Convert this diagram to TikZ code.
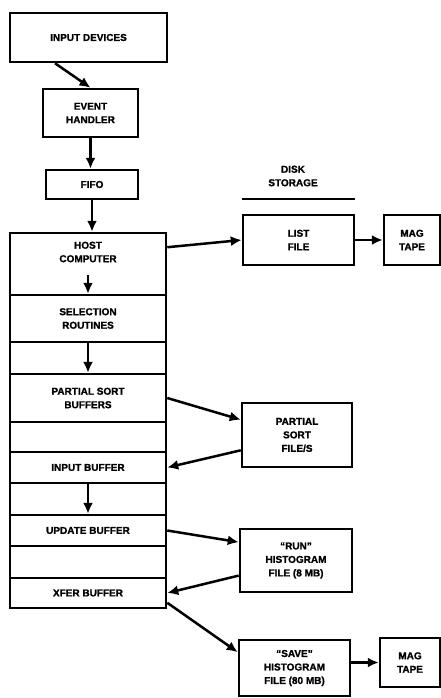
\documentclass[tikz,border=0pt]{standalone}
\usepackage{fontspec}
\setmainfont{Liberation Sans}[BoldFeatures={FakeBold=1.2}]
\usetikzlibrary{arrows.meta,calc}
\begin{document}
\begin{tikzpicture}[x=1pt,y=-1pt,
  box/.style={draw, line width=2.5pt, rectangle, inner sep=0pt, align=center,
    font=\fontsize{10}{13.5}\selectfont\bfseries},
  lbl/.style={inner sep=2pt, align=center, font=\fontsize{10}{13.5}\selectfont\bfseries},
  arr/.style={line width=2.5pt, -{Latex[length=11pt,width=10pt]}},
  row/.style={box, minimum width=156pt}]
\useasboundingbox (0,0) rectangle (441,698);
% left column
\node[box, minimum width=157pt, minimum height=49pt] (indev) at (88.5,37.5) {INPUT DEVICES};
\node[box, minimum width=95pt, minimum height=48pt] (evh) at (90.5,113) {EVENT\\HANDLER};
\node[box, minimum width=92pt, minimum height=29pt] (fifo) at (92,184.5) {FIFO};
% stack
\node[row, minimum height=62pt] (host) at (88,264) {};
\node[lbl] (hosttxt) at (88,252) {HOST\\COMPUTER};
\node[row, minimum height=47pt] (sel) at (88,318.5) {SELECTION\\ROUTINES};
\node[row, minimum height=32pt] (e1) at (88,358) {};
\node[row, minimum height=48pt] (psb) at (88,398) {PARTIAL SORT\\BUFFERS};
\node[row, minimum height=30pt] (e2) at (88,437) {};
\node[row, minimum height=31pt] (inb) at (88,467.5) {INPUT BUFFER};
\node[row, minimum height=32pt] (e3) at (88,499) {};
\node[row, minimum height=31pt] (upd) at (88,530.5) {UPDATE BUFFER};
\node[row, minimum height=32pt] (e4) at (88,562) {};
\node[row, minimum height=30pt] (xfer) at (88,593) {XFER BUFFER};
% right side
\node[lbl] (disk) at (293,176) {DISK\\STORAGE};
\node[box, minimum width=111pt, minimum height=50pt] (listf) at (298.5,240) {LIST\\FILE};
\node[box, minimum width=56pt, minimum height=50pt] (mag1) at (412,240) {MAG\\TAPE};
\node[box, minimum width=110pt, minimum height=64pt] (psf) at (297,435) {PARTIAL\\SORT\\FILE/S};
\node[box, minimum width=112pt, minimum height=63pt] (run) at (296,560.5) {“RUN”\\HISTOGRAM\\FILE (8 MB)};
\node[box, minimum width=111pt, minimum height=56pt] (save) at (294.5,668) {“SAVE”\\HISTOGRAM\\FILE (80 MB)};
\node[box, minimum width=60pt, minimum height=49pt] (mag2) at (410,662.5) {MAG\\TAPE};
% underline of disk storage
\draw[line width=2.5pt] ([yshift=15pt]listf.north west) -- ([yshift=15pt]listf.north east);
% connectors
\draw[arr] ($(indev.south west)!0.29!(indev.south east)$) -- (evh.north);
\draw[arr] (evh.south) -- (evh.south |- fifo.north);
\draw[arr] (fifo.south) -- (fifo.south |- host.north);
\draw[arr] ([yshift=-11pt]hosttxt.south) -- (sel.north);
\draw[arr] (sel.south) -- (psb.north);
\draw[arr] (inb.south) -- (upd.north);
\draw[arr] ($(host.north east)!0.24!(host.south east)$) -- (listf.west);
\draw[arr] (listf.east) -- (mag1.west);
\draw[arr] (psb.east) -- ($(psf.north west)!0.27!(psf.south west)$);
\draw[arr] ($(psf.north west)!0.73!(psf.south west)$) -- (inb.east);
\draw[arr] (upd.east) -- ($(run.north west)!0.22!(run.south west)$);
\draw[arr] ($(run.north west)!0.73!(run.south west)$) -- (xfer.east);
\draw[arr] ($(xfer.north east)!0.8!(xfer.south east)$) -- ($(save.north west)!0.23!(save.south west)$);
\draw[arr] (save.east |- mag2.west) -- (mag2.west);
\end{tikzpicture}
\end{document}
